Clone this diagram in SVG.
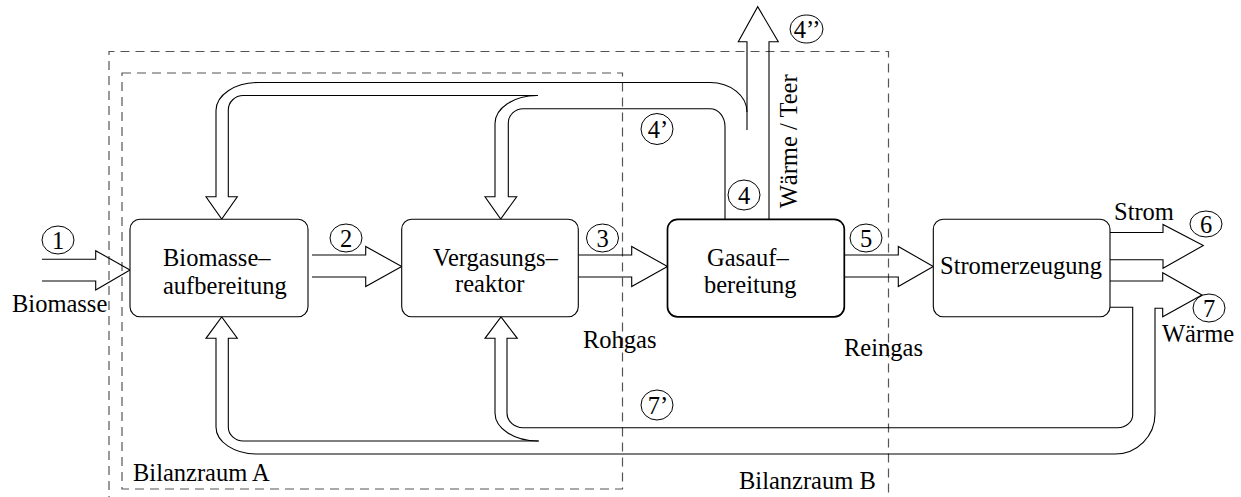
<svg xmlns="http://www.w3.org/2000/svg" width="1241" height="497" viewBox="0 0 1241 497">
<style>
  .t { font-family: "Liberation Serif", "Times New Roman", serif; font-size: 24.5px; fill: #000; }
  .c { text-anchor: middle; }
  .box { fill: #fff; stroke: #000; stroke-width: 1.1; }
  .pipe { fill: none; stroke: #000; stroke-width: 1.1; stroke-linejoin: miter; }
  .dash { fill: none; stroke: #555; stroke-width: 1.2; stroke-dasharray: 9 6; }
  .num { fill: none; stroke: #000; stroke-width: 1; }
</style>
<rect width="1241" height="497" fill="#fff"/>

<g id="bilanzraum-b">
  <path class="dash" d="M109 505 V51.5 H888.5 V505"/>
  <text class="t" x="739" y="489">Bilanzraum B</text>
</g>
<g id="bilanzraum-a">
  <rect class="dash" x="122" y="73" width="500.5" height="416"/>
  <text class="t" x="133" y="481">Bilanzraum A</text>
</g>

<g id="connectors">
  <!-- 1 Biomasse input -->
  <path class="pipe" d="M42 259.3 H95.7 V250.7 L130 270 L95.7 290 V281 H42"/>
  <!-- 2 -->
  <path class="pipe" d="M312 255 H365.7 V246.5 L401.7 266.5 L365.7 286.5 V277 H312"/>
  <!-- 3 Rohgas -->
  <path class="pipe" d="M578.3 255 H631.7 V246.5 L667.5 266.5 L631.7 286.5 V277 H578.3"/>
  <!-- 5 Reingas -->
  <path class="pipe" d="M844 255 H898.3 V246.5 L933.3 266.5 L898.3 286.5 V277 H844"/>
  <!-- 6 Strom -->
  <path class="pipe" d="M1110 232.5 H1163 V224.5 L1203.3 245.5 L1163 268.3 V259.7 H1110"/>
  <!-- 4 / 4'' exit -->
  <path class="pipe" d="M769 219 V41.7 H778.3 L757.7 6.7 L738.3 41.7 H747 V130"/>
  <!-- 4' loop to Biomasseaufbereitung -->
  <path class="pipe" d="M747 112 A37 29.5 0 0 0 710 82.5 H258 A42 28 0 0 0 216 110.5 V196.7 H206 L221.7 219 L237.3 196.7 H228.3 V110 A15 14.5 0 0 1 243.3 95.5 H538"/>
  <!-- 4' loop to Vergasungsreaktor -->
  <path class="pipe" d="M537 95.5 A42 28 0 0 0 495 123.5 V196.7 H485 L500.7 219 L516.7 196.7 H508.3 V123 A15 14.3 0 0 1 523.3 108.7 H710 A15 18 0 0 1 725 126.7 V219"/>
  <!-- 7 Waerme + 7' return, outer -->
  <path class="pipe" d="M1110 281 H1162.7 V272.7 L1202 295 L1162.7 316.7 V308.3 H1155 V414 A40 40 0 0 1 1115 454 H257 A41 27 0 0 1 216 427 V338.3 H206 L221.7 317 L237.3 338.3 H228.3 V427 A15 14 0 0 0 243.3 441 H538.7"/>
  <!-- 7' return inner -->
  <path class="pipe" d="M538.7 441 A43 28 0 0 1 495 413 V338.3 H485 L501 317 L517.3 338.3 H507 V413 A16 14.7 0 0 0 523 427.7 H1117.7 A15 13 0 0 0 1132.7 414.7 V307.3 H1110"/>
</g>

<g id="node-biomasseaufbereitung">
  <rect class="box" x="130" y="219.3" width="178" height="97.5" rx="10"/>
  <text class="t" x="163" y="266">Biomasse–</text>
  <text class="t" x="163" y="294">aufbereitung</text>
</g>
<g id="node-vergasungsreaktor">
  <rect class="box" x="401.7" y="219.3" width="176.6" height="97.5" rx="10"/>
  <text class="t" x="433" y="266">Vergasungs–</text>
  <text class="t" x="455" y="292">reaktor</text>
</g>
<g id="node-gasaufbereitung">
  <rect class="box" x="667.5" y="219.3" width="176.8" height="97.5" rx="10" style="stroke-width:1.7"/>
  <text class="t" x="707" y="266">Gasauf–</text>
  <text class="t" x="704" y="293">bereitung</text>
</g>
<g id="node-stromerzeugung">
  <rect class="box" x="933.3" y="219.3" width="176.7" height="97.5" rx="10"/>
  <text class="t" x="940" y="274">Stromerzeugung</text>
</g>

<g id="labels">
  <text class="t" x="12" y="312">Biomasse</text>
  <text class="t" x="583" y="348">Rohgas</text>
  <text class="t" x="844" y="356">Reingas</text>
  <text class="t" x="1114" y="220">Strom</text>
  <text class="t" x="1162" y="342">Wärme</text>
  <text class="t" transform="translate(796.7 208.3) rotate(-90)">Wärme / Teer</text>
</g>

<g id="stream-numbers">
  <g id="n1"><ellipse class="num" cx="58" cy="240" rx="16" ry="14"/><text class="t c" x="58" y="248.5">1</text></g>
  <g id="n2"><ellipse class="num" cx="346" cy="238" rx="16" ry="14"/><text class="t c" x="346" y="246.5">2</text></g>
  <g id="n3"><ellipse class="num" cx="602.5" cy="238" rx="16" ry="14"/><text class="t c" x="602.5" y="246.5">3</text></g>
  <g id="n4"><ellipse class="num" cx="744" cy="195" rx="16" ry="15"/><text class="t c" x="744" y="203.5">4</text></g>
  <g id="n4p"><ellipse class="num" cx="657" cy="129" rx="16" ry="15.5"/><text class="t c" x="658" y="137.5">4’</text></g>
  <g id="n4pp"><ellipse class="num" cx="806.5" cy="29" rx="16.5" ry="14"/><text class="t c" x="807" y="37.5">4’’</text></g>
  <g id="n5"><ellipse class="num" cx="866" cy="238" rx="16" ry="14"/><text class="t c" x="866" y="246.5">5</text></g>
  <g id="n6"><ellipse class="num" cx="1206" cy="224" rx="16" ry="13"/><text class="t c" x="1206" y="232.5">6</text></g>
  <g id="n7"><ellipse class="num" cx="1209" cy="308" rx="16" ry="14"/><text class="t c" x="1209" y="316.5">7</text></g>
  <g id="n7p"><ellipse class="num" cx="657" cy="405" rx="16" ry="15"/><text class="t c" x="658" y="413.5">7’</text></g>
</g>
</svg>
